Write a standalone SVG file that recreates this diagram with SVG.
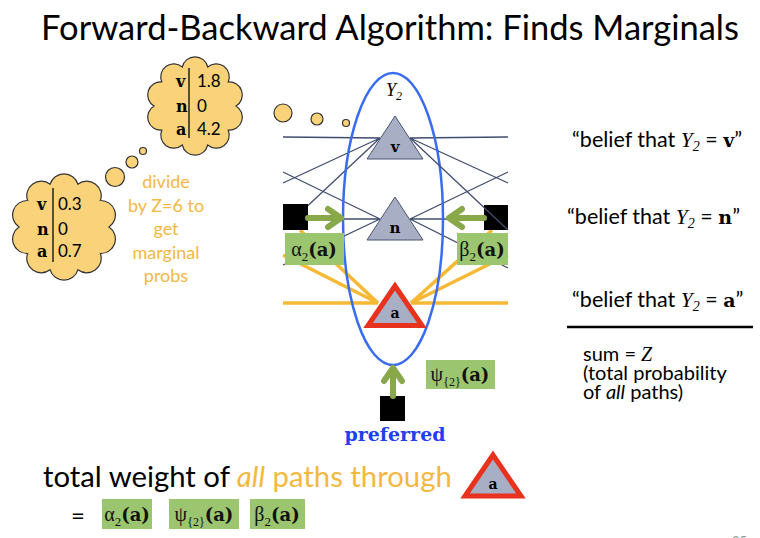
<svg xmlns="http://www.w3.org/2000/svg" width="760" height="538" viewBox="0 0 760 538">
<style>
.sans{font-family:Lato,"Open Sans","Liberation Sans",sans-serif}
.mono{font-family:"DejaVu Serif","Liberation Serif",serif;font-weight:bold}
.ser{font-family:"Liberation Serif","DejaVu Serif",serif}
.nv{stroke:#404d6e;stroke-width:1.3;fill:none}
.or{stroke:#f5b935;stroke-width:3.5;fill:none}
.tri{fill:#a8afc4;stroke:#4a5570;stroke-width:1}
.tria{fill:#a8afc4;stroke:#e8321e;stroke-width:5}
.box{fill:#9bc56f}
.cloud{fill:#f9d27a;stroke:#333;stroke-width:1.2}
.arw{stroke:#88a84a;stroke-width:6;fill:none;stroke-linecap:round;stroke-linejoin:round}
.bt{font-size:20px;fill:#111}
.pa{font-family:"DejaVu Serif","Liberation Serif",serif;font-weight:bold;font-size:18px}
</style>
<rect width="760" height="538" fill="#fff"/>
<text id="title" class="sans" x="390" y="40" font-size="34.5" text-anchor="middle" fill="#000">Forward-Backward Algorithm: Finds Marginals</text>

<g id="cloud-top">
<path class="cloud" d="M236,106 A13,13 0 0,1 228.2,130.1 A13,13 0 0,1 207.7,145 A13,13 0 0,1 182.3,145 A13,13 0 0,1 161.8,130.1 A13,13 0 0,1 154,106 A13,13 0 0,1 161.8,81.9 A13,13 0 0,1 182.3,67 A13,13 0 0,1 207.7,67 A13,13 0 0,1 228.2,81.9 A13,13 0 0,1 236,106 Z"/>
<line x1="189" y1="68" x2="189" y2="138" stroke="#222" stroke-width="1.5"/>
<text class="mono" font-size="16" x="176" y="87">v</text>
<text class="mono" font-size="16" x="176" y="112">n</text>
<text class="mono" font-size="16" x="176" y="135">a</text>
<text class="sans" font-size="17" x="197" y="87">1.8</text>
<text class="sans" font-size="17" x="197" y="112">0</text>
<text class="sans" font-size="17" x="197" y="135">4.2</text>
</g>

<g id="cloud-bottom">
<path class="cloud" d="M109,227 A14.5,14.5 0 0,1 100.4,253.5 A14.5,14.5 0 0,1 77.9,269.8 A14.5,14.5 0 0,1 50.1,269.8 A14.5,14.5 0 0,1 27.6,253.5 A14.5,14.5 0 0,1 19,227 A14.5,14.5 0 0,1 27.6,200.5 A14.5,14.5 0 0,1 50.1,184.2 A14.5,14.5 0 0,1 77.9,184.2 A14.5,14.5 0 0,1 100.4,200.5 A14.5,14.5 0 0,1 109,227 Z"/>
<line x1="53" y1="188" x2="53" y2="262" stroke="#222" stroke-width="1.5"/>
<text class="mono" font-size="16" x="37" y="210">v</text>
<text class="mono" font-size="16" x="37" y="235">n</text>
<text class="mono" font-size="16" x="37" y="257">a</text>
<text class="sans" font-size="17" x="58" y="210">0.3</text>
<text class="sans" font-size="17" x="58" y="235">0</text>
<text class="sans" font-size="17" x="58" y="257">0.7</text>
</g>

<g id="bubbles" class="cloud">
<circle cx="283" cy="113" r="9"/>
<circle cx="317" cy="119" r="6"/>
<circle cx="346" cy="123" r="3.5"/>
<circle cx="143" cy="151" r="3.5"/>
<circle cx="132" cy="162" r="6"/>
<circle cx="115" cy="177" r="9.5"/>
</g>

<g id="divide-note" class="sans" font-size="18" fill="#f4b83f" text-anchor="middle">
<text x="166" y="188">divide</text>
<text x="166" y="212">by Z=6 to</text>
<text x="166" y="235">get</text>
<text x="166" y="259">marginal</text>
<text x="166" y="282">probs</text>
</g>

<g id="connectors">
<path class="nv" d="M283,137 L380,138 M283,183 L380,138 M283,229 L380,138 M283,172 L380,219 M283,219 L380,219 M283,265 L380,219"/>
<path class="nv" d="M508,137 L410,138 M508,183 L410,138 M508,172 L410,219 M508,219 L410,219 M508,268 L410,219"/>
<path class="or" d="M283,303 L378,303 M283,255 L378,303 M300,230 L378,303 M508,303 L411,303 M508,255 L411,303 M492,230 L411,303"/>
</g>

<g id="Y2">
<ellipse cx="393" cy="219" rx="50" ry="146" fill="none" stroke="#3a6cf0" stroke-width="2.5"/>
<text class="ser" x="386" y="96" font-size="18" font-style="italic">Y<tspan font-size="12" dy="4">2</tspan></text>
</g>

<g id="node-v">
<polygon class="tri" points="395,116 367,159 423,159"/>
<text class="mono" x="395" y="152" font-size="15" text-anchor="middle">v</text>
</g>
<g id="node-n">
<polygon class="tri" points="395,197 367,240 423,240"/>
<text class="mono" x="395" y="233" font-size="15" text-anchor="middle">n</text>
</g>
<g id="node-a">
<polygon class="tria" points="395,286 368,325.5 422,325.5"/>
<text class="mono" x="395" y="318" font-size="14" text-anchor="middle">a</text>
</g>

<g id="factor-left"><rect x="283" y="204" width="25" height="26" fill="#000"/></g>
<g id="factor-right"><rect x="484" y="205" width="24" height="25" fill="#000"/>
<line class="nv" x1="410" y1="138" x2="508" y2="230"/></g>
<g id="factor-bottom"><rect x="380" y="396" width="25" height="25" fill="#000"/></g>

<g id="arrows" class="arw">
<path d="M308,218 L340,218 M328,209 L341,218 L328,227"/>
<path d="M484,218 L450,218 M462,209 L449,218 L462,227"/>
<path d="M393,396 L393,370 M384,381 L393,368 L402,381"/>
</g>

<g id="alpha">
<rect class="box" x="285" y="233" width="59" height="32"/>
<text class="bt" x="314" y="256" text-anchor="middle"><tspan class="ser">α</tspan><tspan class="ser" font-size="13" dy="5">2</tspan><tspan class="pa" dy="-5">(a)</tspan></text>
</g>
<g id="beta">
<rect class="box" x="457" y="233" width="51" height="32"/>
<text class="bt" x="482" y="256" text-anchor="middle"><tspan class="ser">β</tspan><tspan class="ser" font-size="13" dy="5">2</tspan><tspan class="pa" dy="-5">(a)</tspan></text>
</g>
<g id="psi">
<rect class="box" x="426" y="360" width="69" height="29"/>
<text class="bt" x="460" y="381" text-anchor="middle"><tspan class="ser">ψ</tspan><tspan class="ser" font-size="12" dy="5">{2}</tspan><tspan class="pa" dy="-5">(a)</tspan></text>
</g>

<text id="preferred" class="mono" x="395" y="441" font-size="19" fill="#1f3ff0" text-anchor="middle">preferred</text>

<g id="beliefs" class="sans" font-size="21.5" fill="#000">
<text x="572" y="147">“belief that <tspan class="ser" font-style="italic">Y</tspan><tspan class="ser" font-style="italic" font-size="14" dy="4">2</tspan><tspan dy="-4"> = </tspan><tspan class="mono" font-size="19">v</tspan>”</text>
<text x="567" y="224">“belief that <tspan class="ser" font-style="italic">Y</tspan><tspan class="ser" font-style="italic" font-size="14" dy="4">2</tspan><tspan dy="-4"> = </tspan><tspan class="mono" font-size="19">n</tspan>”</text>
<text x="572" y="307">“belief that <tspan class="ser" font-style="italic">Y</tspan><tspan class="ser" font-style="italic" font-size="14" dy="4">2</tspan><tspan dy="-4"> = </tspan><tspan class="mono" font-size="19">a</tspan>”</text>
<line x1="567" y1="327" x2="753" y2="327" stroke="#000" stroke-width="2.5"/>
<g font-size="20">
<text x="583" y="361">sum = <tspan class="ser" font-style="italic">Z</tspan></text>
<text x="583" y="380">(total probability</text>
<text x="583" y="399">of <tspan font-style="italic">all</tspan> paths)</text>
</g>
</g>

<g id="total">
<text class="sans" x="43" y="487" font-size="29.3" fill="#000">total weight of <tspan font-style="italic" fill="#f4b83f">all</tspan><tspan fill="#f4b83f"> paths through</tspan></text>
<polygon class="tria" points="493,455 465,496 521,496"/>
<text class="mono" x="493" y="489" font-size="14" text-anchor="middle">a</text>
<text class="sans" x="78" y="524" font-size="24" text-anchor="middle">=</text>
<rect class="box" x="102" y="499" width="50" height="30"/>
<text class="bt" x="127" y="521" text-anchor="middle"><tspan class="ser">α</tspan><tspan class="ser" font-size="13" dy="5">2</tspan><tspan class="pa" dy="-5">(a)</tspan></text>
<rect class="box" x="169" y="499" width="70" height="30"/>
<text class="bt" x="204" y="521" text-anchor="middle"><tspan class="ser">ψ</tspan><tspan class="ser" font-size="12" dy="5">{2}</tspan><tspan class="pa" dy="-5">(a)</tspan></text>
<rect class="box" x="250" y="499" width="55" height="30"/>
<text class="bt" x="277" y="521" text-anchor="middle"><tspan class="ser">β</tspan><tspan class="ser" font-size="13" dy="5">2</tspan><tspan class="pa" dy="-5">(a)</tspan></text>
</g>
<text id="page" class="sans" x="732" y="546" font-size="13" fill="#999">35</text>
</svg>
